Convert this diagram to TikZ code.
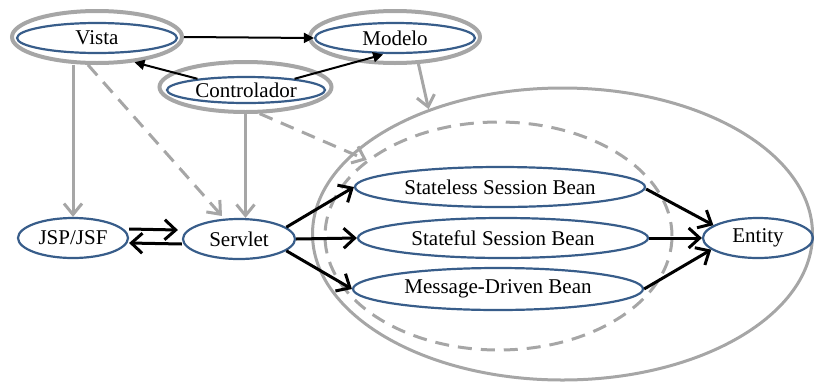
\documentclass[tikz,border=0pt]{standalone}
\usepackage{fontspec}
\setmainfont{Liberation Serif}
\usetikzlibrary{arrows.meta,shapes.geometric}
\definecolor{nodeblue}{RGB}{56,93,138}
\definecolor{lgray}{RGB}{166,166,166}
\begin{document}
\begin{tikzpicture}[x=1pt,y=-1pt,
  blue node/.style={ellipse, draw=nodeblue, line width=2.2pt, inner sep=0pt,
    font=\fontsize{21}{24}\selectfont},
  halo/.style={ellipse, draw=lgray, line width=4pt, inner sep=0pt},
  container/.style={ellipse, draw=lgray, line width=3pt, inner sep=0pt},
  mvcarrow/.style={draw=black, line width=2pt, -{Triangle[length=10pt,width=10pt]}},
  garrow/.style={draw=lgray, line width=3pt, -{Straight Barb[length=11pt,width=18pt]}},
  gdash/.style={garrow, dash pattern=on 14pt off 9pt},
  barrow/.style={draw=black, line width=3pt, -{Straight Barb[length=11pt,width=20pt]}}
]
\useasboundingbox (0,0) rectangle (814,381);

% containers
\node[container, minimum width=500pt, minimum height=292pt] (big) at (562.5,234) {};
\node[container, dash pattern=on 14pt off 9pt, minimum width=347pt, minimum height=228pt] (dsh) at (498.5,236) {};

% MVC nodes
\node[halo, minimum width=170pt, minimum height=52pt] (vistaO) at (97,37) {};
\node[blue node, minimum width=160pt, minimum height=30pt] (vista) at (97,38) {Vista};
\node[halo, minimum width=170pt, minimum height=52pt] (modeloO) at (395,37) {};
\node[blue node, minimum width=160pt, minimum height=30pt] (modelo) at (395,38) {Modelo};
\node[halo, minimum width=172pt, minimum height=50pt] (ctrlO) at (245.5,87) {};
\node[blue node, minimum width=158pt, minimum height=26pt] (ctrl) at (246,90) {Controlador};

% lower nodes
\node[blue node, minimum width=110pt, minimum height=40pt] (jsp) at (73,238) {JSP/JSF};
\node[blue node, minimum width=112pt, minimum height=40pt] (servlet) at (239,239) {Servlet};
\node[blue node, minimum width=290pt, minimum height=40pt] (sless) at (500,187) {Stateless Session Bean};
\node[blue node, minimum width=290pt, minimum height=40pt] (sful) at (503,238) {Stateful Session Bean};
\node[blue node, minimum width=290pt, minimum height=42pt] (mdb) at (498,289) {Message-Driven Bean};
\node[blue node, minimum width=110pt, minimum height=40pt] (entity) at (758,238) {Entity};

% MVC arrows
\draw[mvcarrow] (vistaO.east) -- (modelo.west);
\draw[mvcarrow] (ctrl.167) -- (vistaO.-34);
\draw[mvcarrow, shorten >=2pt] (ctrl.13) -- (modelo.-122);

% gray arrows
\draw[garrow] (vistaO.south -| jsp.north) -- (jsp.north);
\draw[garrow] (ctrlO.south) -- (ctrlO.south |- servlet.north);
\draw[garrow] (modeloO.-49) -- (big.137);
\draw[gdash] (vistaO.-108) -- ([shift={(1pt,3pt)}]servlet.132);
\draw[gdash] (ctrlO.-62) -- (dsh.150);

% black arrows
\draw[barrow] ([yshift=9pt]jsp.east) -- ([yshift=9pt,xshift=-4pt]servlet.west);
\draw[barrow] ([yshift=-5pt]servlet.west) -- ([yshift=-5pt]jsp.east);
\draw[barrow] (servlet.14) -- (sless.west);
\draw[barrow] (servlet.east) -- (sful.west);
\draw[barrow] (servlet.-14) -- (mdb.west);
\draw[barrow] ([yshift=-2pt]sless.east) -- (entity.164);
\draw[barrow] (sful.east) -- (entity.west);
\draw[barrow] (mdb.east) -- (entity.-166);
\end{tikzpicture}
\end{document}
